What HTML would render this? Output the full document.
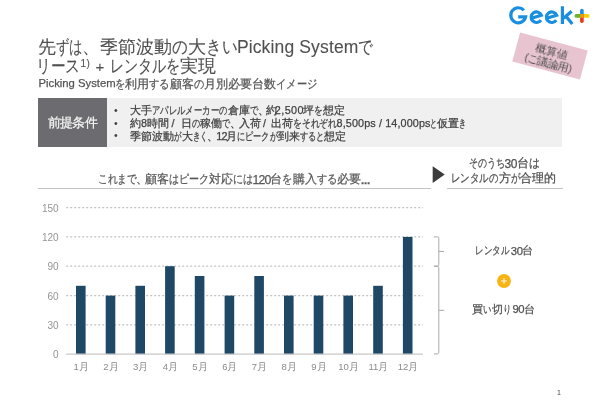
<!DOCTYPE html>
<html lang="ja">
<head>
<meta charset="utf-8">
<style>
*{margin:0;padding:0;box-sizing:border-box;}
html,body{width:600px;height:415px;background:#fff;overflow:hidden;}
body{position:relative;font-family:"Liberation Sans",sans-serif;color:#555;-webkit-font-smoothing:antialiased;}
.abs{position:absolute;white-space:nowrap;will-change:transform;}
.ln{position:absolute;left:0;width:600px;white-space:nowrap;will-change:transform;-webkit-text-stroke:0.25px currentColor;}
.r{position:absolute;top:0;white-space:nowrap;}
.sx{display:inline-block;transform-origin:0 0;}
#lab-bg{left:38px;top:98.4px;width:69px;height:48.8px;background:#6c6c70;}
#box{left:107px;top:98.3px;width:454.7px;height:48.9px;background:#f0f0f0;}
.dot{left:114px;font-size:10.5px;line-height:13px;color:#404040;}
#l1{left:38px;top:187.5px;width:393px;height:1px;background:#c4c4c4;}
#l2{left:447px;top:187.5px;width:115.5px;height:1px;background:#c4c4c4;}
#pg{left:557px;top:389px;font-size:7px;line-height:8px;color:#444;}
#stamp{left:514.9px;top:41.1px;width:70px;height:30px;background:#e7c4d0;transform:rotate(15deg);text-align:center;font-size:10.5px;line-height:12px;color:#4a4a4a;padding-top:3.8px;}
</style>
</head>
<body>
<svg class="abs" style="left:500px;top:0" width="100" height="30" viewBox="500 0 100 30">
 <g fill="none" stroke="#1a8fe0" stroke-width="3.2">
  <path id="lgG" d="M523.9 10.3 A7.5 7.5 0 1 0 525.6 16.9 H518.2"/>
  <path id="lgE1" d="M540.9 20.1 A5.3 5.3 0 1 1 541.4 15.3 L531.3 18.3"/>
  <path id="lgE2" d="M556.2 20.1 A5.3 5.3 0 1 1 556.7 15.3 L546.6 18.3"/>
  <path id="lgK" d="M562.4 6.3 V24 M571.6 11.3 L563.6 18.3 M566.2 16.4 L572.3 24"/>
 </g>
 <g stroke-width="3.8" stroke-linecap="round">
  <line x1="576.4" y1="15.9" x2="581.9" y2="15.9" stroke="#6ab42d"/>
  <line x1="581.9" y1="15.9" x2="587.8" y2="15.9" stroke="#fcd20f"/>
 </g>
 <g stroke-width="3.6" stroke-linecap="round">
  <line x1="581.9" y1="10.5" x2="581.9" y2="15.9" stroke="#1a8fe0"/>
  <line x1="581.9" y1="15.9" x2="581.9" y2="21.2" stroke="#e8391c"/>
 </g>
 <rect x="580.1" y="14" width="3.6" height="3.8" fill="#f29a12"/>
</svg>
<div id="stamp" class="abs">概算値<br><span style="letter-spacing:-0.5px">(ご議論用)</span></div>
<div id="box" class="abs"></div>
<div id="lab-bg" class="abs"></div>
<div class="abs dot" style="top:103.5px">•</div><div class="abs dot" style="top:116.5px">•</div><div class="abs dot" style="top:129px">•</div>
<div id="l1" class="abs"></div>
<svg class="abs" style="left:430px;top:164px" width="18" height="22" viewBox="430 164 18 22"><polygon points="432.7,166.3 444.7,174.6 432.7,183" fill="#3c3c3c"/></svg>
<div id="l2" class="abs"></div>
<svg class="abs" style="left:0;top:0" width="600" height="415" viewBox="0 0 600 415">
 <g stroke="#c2c2c2" stroke-width="1.2" stroke-dasharray="2 2"><line x1="66.2" y1="324.9" x2="423" y2="324.9"/><line x1="66.2" y1="295.6" x2="423" y2="295.6"/><line x1="66.2" y1="266.2" x2="423" y2="266.2"/><line x1="66.2" y1="236.9" x2="423" y2="236.9"/><line x1="66.2" y1="207.6" x2="423" y2="207.6"/></g>
 <g fill="#1f4867"><rect x="76.0" y="285.8" width="9.6" height="68.4"/><rect x="105.7" y="295.6" width="9.6" height="58.6"/><rect x="135.4" y="285.8" width="9.6" height="68.4"/><rect x="165.1" y="266.2" width="9.6" height="88.0"/><rect x="194.8" y="276.0" width="9.6" height="78.2"/><rect x="224.6" y="295.6" width="9.6" height="58.6"/><rect x="254.3" y="276.0" width="9.6" height="78.2"/><rect x="284.0" y="295.6" width="9.6" height="58.6"/><rect x="313.7" y="295.6" width="9.6" height="58.6"/><rect x="343.4" y="295.6" width="9.6" height="58.6"/><rect x="373.2" y="285.8" width="9.6" height="68.4"/><rect x="402.9" y="236.9" width="9.6" height="117.3"/></g>
 <line x1="66" y1="354.2" x2="423" y2="354.2" stroke="#c8c8c8" stroke-width="1.3"/>
 <g font-family="Liberation Sans" font-size="10" fill="#959595" text-anchor="end"><text x="58.6" y="358.4">0</text><text x="58.6" y="329.1">30</text><text x="58.6" y="299.8">60</text><text x="58.6" y="270.4">90</text><text x="58.6" y="241.1">120</text><text x="58.6" y="211.8">150</text></g>
 <g font-family="Liberation Sans" font-size="9.5" fill="#8a8a8a" text-anchor="middle"><text x="81.2" y="369.8">1月</text><text x="110.9" y="369.8">2月</text><text x="140.6" y="369.8">3月</text><text x="170.3" y="369.8">4月</text><text x="200.0" y="369.8">5月</text><text x="229.8" y="369.8">6月</text><text x="259.5" y="369.8">7月</text><text x="289.2" y="369.8">8月</text><text x="318.9" y="369.8">9月</text><text x="348.6" y="369.8">10月</text><text x="378.4" y="369.8">11月</text><text x="408.1" y="369.8">12月</text></g>
 <g fill="none" stroke="#a8a8a8" stroke-width="1">
  <path d="M434 236.9 H437.3 Q438.8 236.9 438.8 238.4 V264.7 Q438.8 266.2 437.3 266.2 H434 M438.8 251.4 H444"/>
  <path d="M434 266.2 H437.3 Q438.8 266.2 438.8 267.7 V352.4 Q438.8 353.9 437.3 353.9 H434 M438.8 310.3 H444.3"/>
 </g>
 <circle cx="504" cy="281" r="6.9" fill="#f9b313"/>
 <path d="M504 278.2 V283.8 M501.2 281 H506.8" stroke="#fff" stroke-width="1"/>
</svg>
<div id="t1a" class="ln" style="top:35.5px;color:#505050;line-height:22px;-webkit-text-stroke:0.1px #505050;"><span class="r" style="left:38.2px;font-size:17.5px;"><span style="letter-spacing:0.00px">先</span><span class="sx" style="transform:scaleX(0.744);margin-right:-9.20px">ずは</span></span><span class="r" style="left:82.1px;font-size:17.5px;"><span class="sx" style="transform:scaleX(1.000);margin-right:-0.00px">、</span></span><span class="r" style="left:100.0px;font-size:17.5px;"><span style="letter-spacing:0.00px">季節波動</span><span class="sx" style="transform:scaleX(0.867);margin-right:-2.40px">の</span><span style="letter-spacing:0.00px">大</span><span class="sx" style="transform:scaleX(0.867);margin-right:-4.80px">きい</span></span><span class="r" style="left:236.9px;font-size:17.5px;letter-spacing:0.14px;top:-0.5px">Picking System</span><span class="r" style="left:358.3px;font-size:17.5px;"><span class="sx" style="transform:scaleX(0.817);margin-right:-3.30px">で</span></span></div>
<div id="t1b" class="ln" style="top:55px;color:#505050;line-height:22px;-webkit-text-stroke:0.1px #505050;"><span class="r" style="left:36.3px;font-size:17.5px;"><span class="sx" style="transform:scaleX(0.819);margin-right:-9.80px">リース</span></span><span class="r" style="left:80.6px;font-size:10px;letter-spacing:0.25px;top:-2.5px">1)</span><span class="r" style="left:95.4px;font-size:15px;letter-spacing:-0.17px;top:0.5px">+</span><span class="r" style="left:110.3px;font-size:17.5px;"><span class="sx" style="transform:scaleX(0.780);margin-right:-19.80px">レンタルを</span></span><span class="r" style="left:180.3px;font-size:17.5px;"><span style="letter-spacing:0.00px">実</span>現</span></div>
<div id="sub" class="ln" style="top:76.5px;color:#555;line-height:14px;"><span class="r" style="left:38.6px;font-size:11.3px;letter-spacing:-0.02px;top:-1.5px">Picking System</span><span class="r" style="left:115.1px;font-size:11.5px;"><span class="sx" style="transform:scaleX(0.856);margin-right:-1.72px">を</span><span style="letter-spacing:0.00px">利用</span><span class="sx" style="transform:scaleX(0.856);margin-right:-3.45px">する</span><span style="letter-spacing:0.00px">顧客</span><span class="sx" style="transform:scaleX(0.856);margin-right:-1.72px">の</span><span style="letter-spacing:0.00px">月別必要台数</span><span class="sx" style="transform:scaleX(0.856);margin-right:-6.90px">イメージ</span></span></div>
<div id="lab" class="ln" style="top:115px;color:#f4f4f4;line-height:16px;"><span class="r" style="left:48.1px;font-size:13px;"><span style="letter-spacing:-0.80px">前提条</span>件</span></div>
<div id="b1" class="ln" style="top:104px;color:#404040;line-height:13px;"><span class="r" style="left:130.3px;font-size:11px;"><span style="letter-spacing:0.00px">大手</span><span class="sx" style="transform:scaleX(0.761);margin-right:-23.67px">アパレルメーカーの</span><span style="letter-spacing:0.00px">倉庫</span><span class="sx" style="transform:scaleX(0.761);margin-right:-2.63px">で</span></span><span class="r" style="left:258.1px;font-size:11px;"><span class="sx" style="transform:scaleX(1.000);margin-right:-0.00px">、</span></span><span class="r" style="left:266.0px;font-size:11px;"><span style="letter-spacing:-1.00px"></span>約</span><span class="r" style="left:274.8px;font-size:10.8px;letter-spacing:0.43px;top:0px">2,500</span><span class="r" style="left:303.4px;font-size:11px;"><span style="letter-spacing:0.00px">坪</span><span class="sx" style="transform:scaleX(0.782);margin-right:-2.40px">を</span><span style="letter-spacing:0.00px">想定</span></span></div>
<div id="b2" class="ln" style="top:116.5px;color:#404040;line-height:13px;"><span class="r" style="left:130.3px;font-size:11px;"><span style="letter-spacing:0.20px"></span>約</span><span class="r" style="left:141.1px;font-size:10.8px;letter-spacing:0.00px;top:0px">8</span><span class="r" style="left:146.6px;font-size:11px;"><span style="letter-spacing:-0.10px">時</span>間</span><span class="r" style="left:171.4px;font-size:10.8px;letter-spacing:0.00px;top:0px">/</span><span class="r" style="left:181.3px;font-size:11px;"><span style="letter-spacing:0.00px">日</span><span class="sx" style="transform:scaleX(0.736);margin-right:-2.90px">の</span><span style="letter-spacing:0.00px">稼働</span><span class="sx" style="transform:scaleX(0.736);margin-right:-2.90px">で</span></span><span class="r" style="left:229.7px;font-size:11px;"><span class="sx" style="transform:scaleX(1.000);margin-right:-0.00px">、</span></span><span class="r" style="left:239.3px;font-size:11px;"><span style="letter-spacing:-0.30px">入</span>荷</span><span class="r" style="left:263.1px;font-size:10.8px;letter-spacing:0.00px;top:0px">/</span><span class="r" style="left:271.3px;font-size:11px;"><span style="letter-spacing:0.00px">出荷</span><span class="sx" style="transform:scaleX(0.798);margin-right:-11.10px">をそれぞれ</span></span><span class="r" style="left:336.6px;font-size:10.8px;letter-spacing:0.12px;top:0px">8,500ps / 14,000ps</span><span class="r" style="left:430.1px;font-size:11px;"><span class="sx" style="transform:scaleX(0.632);margin-right:-4.05px">と</span><span style="letter-spacing:0.00px">仮置</span><span class="sx" style="transform:scaleX(0.632);margin-right:-4.05px">き</span></span></div>
<div id="b3" class="ln" style="top:130px;color:#404040;line-height:13px;"><span class="r" style="left:130.2px;font-size:11px;"><span style="letter-spacing:0.00px">季節波動</span><span class="sx" style="transform:scaleX(0.676);margin-right:-3.57px">が</span><span style="letter-spacing:0.00px">大</span><span class="sx" style="transform:scaleX(0.676);margin-right:-7.13px">きく</span></span><span class="r" style="left:206.8px;font-size:11px;"><span class="sx" style="transform:scaleX(1.000);margin-right:-0.00px">、</span></span><span class="r" style="left:216.3px;font-size:10.8px;letter-spacing:-0.76px;top:0px">12</span><span class="r" style="left:226.3px;font-size:11px;"><span style="letter-spacing:0.00px">月</span><span class="sx" style="transform:scaleX(0.739);margin-right:-14.38px">にピークが</span><span style="letter-spacing:0.00px">到来</span><span class="sx" style="transform:scaleX(0.739);margin-right:-8.62px">すると</span><span style="letter-spacing:0.00px">想定</span></span></div>
<div id="h1" class="ln" style="top:171.5px;color:#595959;line-height:15px;"><span class="r" style="left:98.3px;font-size:12px;"><span class="sx" style="transform:scaleX(0.810);margin-right:-9.10px">これまで</span></span><span class="r" style="left:136.2px;font-size:12px;"><span class="sx" style="transform:scaleX(1.000);margin-right:-0.00px">、</span></span><span class="r" style="left:144.6px;font-size:12px;"><span style="letter-spacing:0.00px">顧客</span><span class="sx" style="transform:scaleX(0.835);margin-right:-7.93px">はピーク</span><span style="letter-spacing:0.00px">対応</span><span class="sx" style="transform:scaleX(0.835);margin-right:-3.97px">には</span></span><span class="r" style="left:252.4px;font-size:12.3px;letter-spacing:-0.81px;top:0.5px">120</span><span class="r" style="left:270.3px;font-size:12px;"><span style="letter-spacing:0.00px">台</span><span class="sx" style="transform:scaleX(0.853);margin-right:-1.77px">を</span><span style="letter-spacing:0.00px">購入</span><span class="sx" style="transform:scaleX(0.853);margin-right:-3.53px">する</span><span style="letter-spacing:0.00px">必要</span></span><span class="r" style="left:361.1px;font-size:11.5px;letter-spacing:-0.23px;top:0.7px;font-weight:bold">...</span></div>
<div id="h2a" class="ln" style="top:155.7px;color:#505050;line-height:14px;"><span class="r" style="left:468.6px;font-size:11.5px;"><span class="sx" style="transform:scaleX(0.752);margin-right:-11.90px">そのうち</span></span><span class="r" style="left:504.4px;font-size:12px;letter-spacing:-0.38px;top:0.8px">30</span><span class="r" style="left:517.3px;font-size:11.5px;"><span style="letter-spacing:0.00px">台</span><span class="sx" style="transform:scaleX(0.900);margin-right:-1.20px">は</span></span></div>
<div id="h2b" class="ln" style="top:171px;color:#505050;line-height:14px;"><span class="r" style="left:451.4px;font-size:11.5px;"><span class="sx" style="transform:scaleX(0.787);margin-right:-12.75px">レンタルの</span><span style="letter-spacing:0.00px">方</span><span class="sx" style="transform:scaleX(0.787);margin-right:-2.55px">が</span><span style="letter-spacing:0.00px">合理的</span></span></div>
<div id="r1" class="ln" style="top:243px;color:#505050;line-height:14px;"><span class="r" style="left:474.6px;font-size:11px;"><span class="sx" style="transform:scaleX(0.782);margin-right:-9.60px">レンタル</span></span><span class="r" style="left:510.7px;font-size:11.3px;letter-spacing:-0.24px;top:0.7px">30</span><span class="r" style="left:522.3px;font-size:11px;"><span style="letter-spacing:0.70px"></span>台</span></div>
<div id="r2" class="ln" style="top:302.2px;color:#505050;line-height:14px;"><span class="r" style="left:472.3px;font-size:11px;"><span style="letter-spacing:0.00px">買</span><span class="sx" style="transform:scaleX(0.759);margin-right:-2.65px">い</span><span style="letter-spacing:0.00px">切</span><span class="sx" style="transform:scaleX(0.759);margin-right:-2.65px">り</span></span><span class="r" style="left:512.4px;font-size:11.3px;letter-spacing:-0.39px;top:-0.3px">90</span><span class="r" style="left:524.0px;font-size:11px;"><span style="letter-spacing:0.70px"></span>台</span></div>

<div id="pg" class="abs">1</div>
</body>
</html>
